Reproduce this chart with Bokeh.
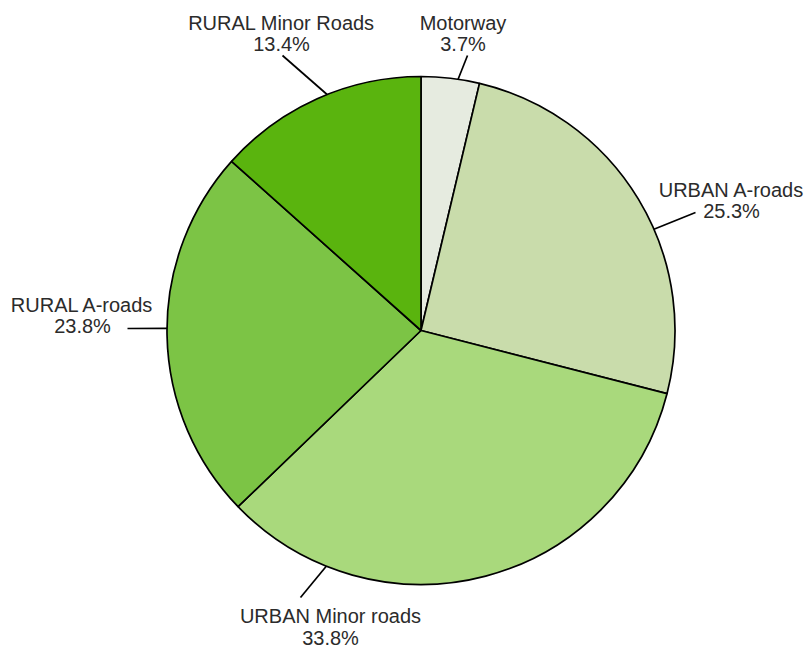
import math
from bokeh.plotting import figure
from bokeh.models import Range1d, ColumnDataSource
from bokeh.embed import file_html
from bokeh.resources import INLINE
from bokeh.core.properties import value

# ---- data ----
categories = ["Motorway", "URBAN A-roads", "URBAN Minor roads", "RURAL A-roads", "RURAL Minor Roads"]
shares = [3.7, 25.3, 33.8, 23.8, 13.4]
colors = ["#e6ebe0", "#c9dcab", "#a9d97c", "#7cc445", "#5ab40e"]

# ---- layout (screen pixels) ----
W, H = 806, 649
CX, CY, R = 420.5, 330.0, 254.0
TEXT_SHIFT = -8  # renderer places text lower than the nominal baseline


def dy(screen_y):
    return H - screen_y


# per category: rim angle of leader (deg), leader end (screen), label centre x, first baseline y
label_layout = {
    "Motorway": (81.6, (467, 55), 462.5, 30),
    "URBAN A-roads": (23.5, (695, 212), 731, 197),
    "URBAN Minor roads": (-111.9, (300, 597), 330, 623.5),
    "RURAL A-roads": (179.5, (127, 328), 82, 312),
    "RURAL Minor Roads": (111.7, (282, 55), 281, 30),
}
LINE_GAP = 21.5

p = figure(width=W, height=H, output_backend="svg", toolbar_location=None,
           x_range=Range1d(0, W), y_range=Range1d(0, H),
           min_border=0, outline_line_color=None)
p.axis.visible = False
p.grid.visible = False
p.background_fill_color = "white"

# wedges, clockwise from 12 o'clock
total = sum(shares)
starts, ends = [], []
cum = 0.0
for s in shares:
    starts.append(math.radians(90 - 360 * cum / total))
    cum += s
    ends.append(math.radians(90 - 360 * cum / total))

src = ColumnDataSource(dict(cat=categories, share=shares, color=colors,
                            start=starts, end=ends))
p.wedge(x=CX, y=dy(CY), radius=R, start_angle="start", end_angle="end",
        direction="clock", fill_color="color",
        line_color="black", line_width=1.7, source=src)

# leader lines and labels
x0, y0, x1, y1 = [], [], [], []
tx, ty, tt = [], [], []
for cat, sh in zip(categories, shares):
    ang, (ex, ey), lx, ly = label_layout[cat]
    a = math.radians(ang)
    sx = CX + R * math.cos(a)
    sy = CY - R * math.sin(a)
    x0.append(sx); y0.append(dy(sy)); x1.append(ex); y1.append(dy(ey))
    tx += [lx, lx]
    ty += [dy(ly + TEXT_SHIFT), dy(ly + LINE_GAP + TEXT_SHIFT)]
    tt += [cat, f"{sh:.1f}%"]

p.segment(x0=x0, y0=y0, x1=x1, y1=y1, line_color="black", line_width=1.7)
p.text(x=tx, y=ty, text=tt, text_align="center", text_baseline="alphabetic",
       text_font=value("Liberation Sans"), text_font_size=value("20px"),
       text_color="#2b2b2b")

open("out.html", "w").write(file_html(p, INLINE))
